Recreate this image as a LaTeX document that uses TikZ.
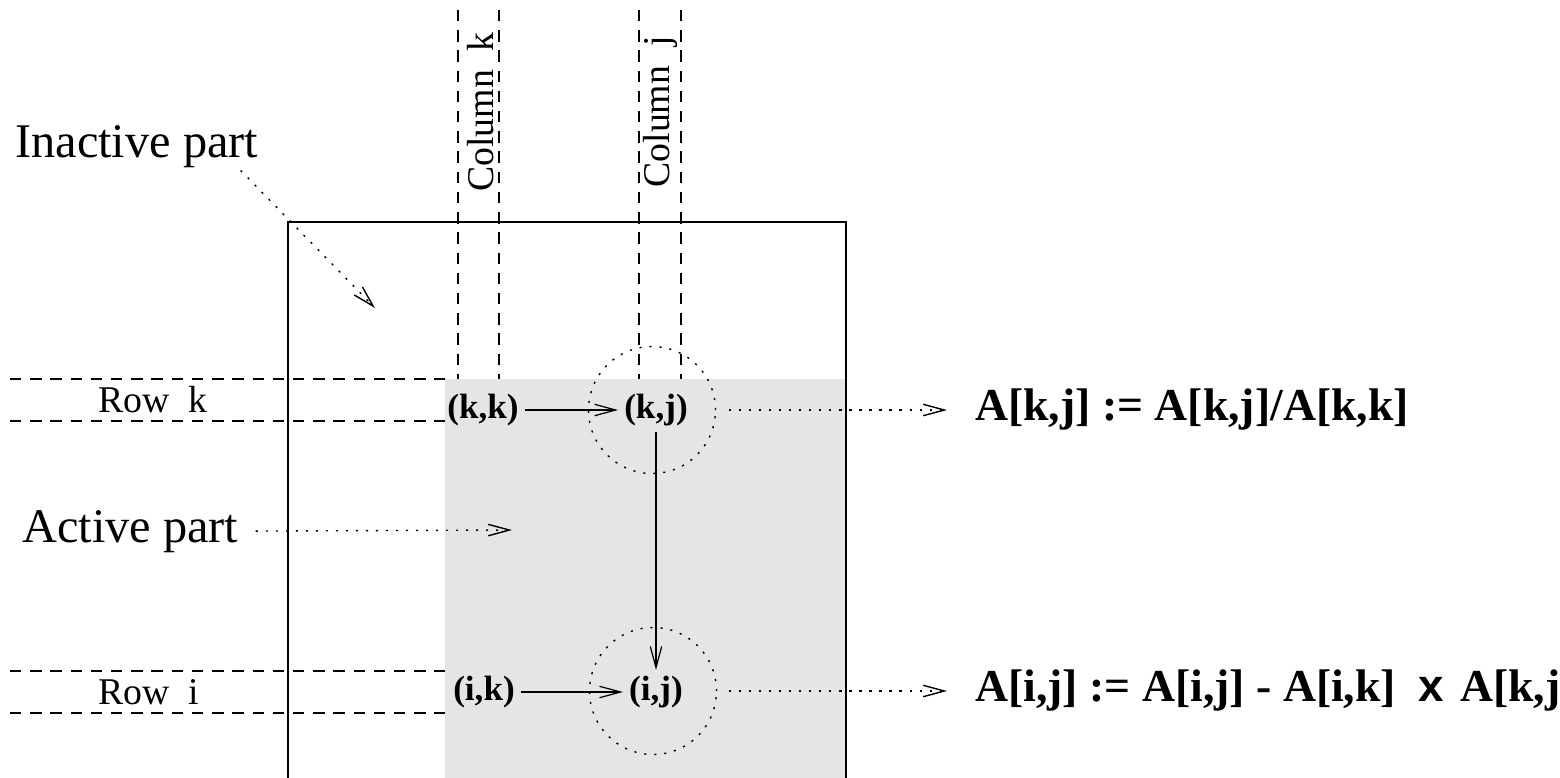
\documentclass[tikz,border=0pt]{standalone}
\usepackage{fontspec}
\setmainfont{Liberation Serif}
\setsansfont{Liberation Sans}
\usetikzlibrary{arrows.meta}
\newcommand\partfont{\fontsize{27.5}{32}\selectfont}
\newcommand\linefont{\fontsize{21.5}{26}\selectfont}
\newcommand\cellfont{\fontsize{20}{24}\selectfont\bfseries}
\newcommand\eqfont{\fontsize{26}{31}\selectfont\bfseries}
\tikzset{
  frame/.style={line width=1.3pt},
  guide/.style={line width=0.6pt, dash pattern=on 6.5pt off 5pt},
  dots/.style={line width=0.8pt, dash pattern=on 1.2pt off 4.5pt},
  tip/.style={-{Straight Barb[length=12pt,width=6.5pt]}},
  ring/.style={circle, draw, dots, minimum size=25.4mm, inner sep=0pt},
}

\begin{document}
\begin{tikzpicture}[x=0.2mm, y=-0.2mm]
\def\colk{458}
\def\colkk{499}
\def\colj{639}
\def\coljj{681}
\clip (0,0) rectangle (1560,777);
\fill[black!10] (445,379) rectangle (846,800);
\draw[frame] (288,800) -- (288,222) -- (846,222) -- (846,800);
% rows and columns
\foreach \x in {\colk,\colkk,\colj,\coljj} \draw[guide] (\x,10) -- (\x,379);
\foreach \y in {379,421,671,713} \draw[guide] (10,\y) -- (445,\y);
\node[rotate=90, font=\linefont] (ck) at (481,112) {Column~ k};
\node[rotate=90, font=\linefont] (cj) at (660,112) {Column~ j};
\node[anchor=west, font=\linefont, inner sep=0pt] (rk) at (98,400) {Row~ k};
\node[anchor=west, font=\linefont, inner sep=0pt] (ri) at (98,692) {Row~ i};

% parts
\node[anchor=base west, font=\partfont, inner sep=0pt] (ina) at (15,157) {Inactive part};
\node[anchor=base west, font=\partfont, inner sep=0pt] (act) at (22,542) {Active part};
\coordinate (inact) at (375,308);
\coordinate (actend) at (512,530);

% elements
\node[font=\cellfont] (kk) at (483,410) {(k,k)};
\node[font=\cellfont] (kj) at (656,410) {(k,j)};
\node[font=\cellfont] (ik) at (484,692) {(i,k)};
\node[font=\cellfont] (ij) at (656,692) {(i,j)};
\node[ring] (c1) at (652,410) {};
\node[ring] (c2) at (653,691) {};
\node[anchor=west, font=\eqfont, inner sep=0pt] (eq1) at (975,410) {A[k,j] := A[k,j]/A[k,k]};
\node[anchor=west, font=\eqfont, inner sep=0pt] (eq2) at (975,691) {A[i,j] := A[i,j] - A[i,k]~ \textsf{x}\hspace{0.35em}A[k,j]};

% edges
\draw[tip, line width=0.7pt] (kk) -- (kj);
\draw[tip, line width=0.7pt] (kj) -- (ij);
\draw[tip, line width=0.7pt] (ik) -- (ij);
\draw[dots, tip, shorten <=2.6mm, shorten >=5.6mm] (c1.east) -- (eq1.west);
\draw[dots, tip, shorten <=2.4mm, shorten >=5.6mm] (c2.east) -- (eq2.west);
\draw[dots, tip, shorten <=0.8mm] (ina.-12.4) -- (inact);
\draw[dots, tip, shorten <=3.4mm] (act.east) -- (actend);
\end{tikzpicture}
\end{document}
